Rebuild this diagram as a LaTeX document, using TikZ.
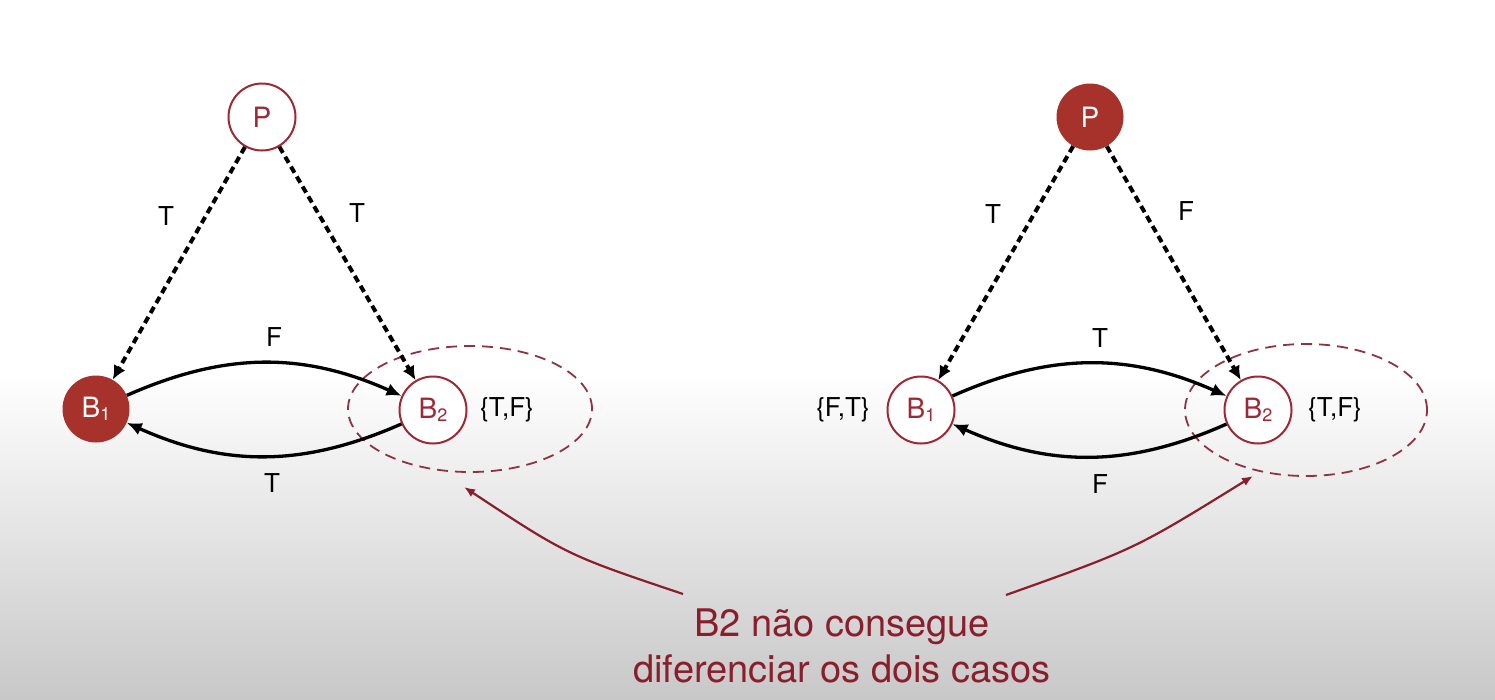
\documentclass[tikz,border=0pt]{standalone}
\usepackage{fontspec}
\setmainfont{TeX Gyre Heros}
\usetikzlibrary{arrows.meta}
\definecolor{bred}{HTML}{9C2A36}
\definecolor{bfill}{HTML}{A6322B}
\definecolor{ered}{HTML}{8E3344}
\definecolor{tred}{HTML}{8A1E2C}
\definecolor{bggray}{HTML}{C8C8C8}
\tikzset{
  openst/.style={circle,minimum size=67pt,inner sep=0pt,draw=bred,line width=2pt,fill=white,text=bred,font=\fontsize{28}{28}\selectfont},
  fullst/.style={circle,minimum size=67pt,inner sep=0pt,fill=bfill,text=white,font=\fontsize{28}{28}\selectfont},
  lbl/.style={inner sep=0pt,font=\fontsize{26}{26}\selectfont,text=black},
  dasharr/.style={line width=4pt,dash pattern=on 7pt off 4.5pt,-{Latex[length=14pt,width=13pt]}},
  solarr/.style={line width=3.3pt,-{Latex[length=15pt,width=13pt]}},
  grp/.style={draw=ered,line width=1.8pt,dash pattern=on 11pt off 7pt},
  redarr/.style={draw=tred,line width=2.2pt,-{Latex[length=11pt,width=9pt]}},
  note/.style={text=tred,font=\fontsize{38}{46}\selectfont,align=center,inner sep=0pt}
}
\newcommand{\bsub}[1]{B\raisebox{-0.12em}{\fontsize{18}{18}\selectfont #1}}
\begin{document}
\begin{tikzpicture}[x=1pt,y=1pt]
\useasboundingbox (0,0) rectangle (1495,-699);
\fill[white] (0,0) rectangle (1495,-372);
\shade[top color=white,bottom color=bggray] (0,-372) rectangle (1495,-699);

% group ellipses
\draw[grp] (470,-409) ellipse [x radius=122pt,y radius=63pt];
\draw[grp] (1306,-410) ellipse [x radius=121pt,y radius=66pt];

% left graph
\node[openst] (lp) at (262,-117) {P};
\node[fullst] (lb1) at (96,-409) {\bsub{1}};
\node[openst] (lb2) at (433,-410) {\bsub{2}};
\node[lbl] (lset) at (507,-410) {\{T,F\}};
\draw[dasharr] (lp) -- (lb1);
\draw[dasharr] (lp) -- (lb2);
\draw[solarr] (lb1) to[bend left=24] (lb2);
\draw[solarr] (lb2) to[bend left=24] (lb1);
\node[lbl] (lt1) at (166,-216) {T};
\node[lbl] (lt2) at (357,-213) {T};
\node[lbl] (lf) at (274,-337) {F};
\node[lbl] (lt3) at (272,-483) {T};

% right graph
\node[fullst] (rp) at (1090,-117) {P};
\node[openst] (rb1) at (921,-410) {\bsub{1}};
\node[openst] (rb2) at (1258,-410) {\bsub{2}};
\node[lbl] (rset1) at (843,-410) {\{F,T\}};
\node[lbl] (rset2) at (1335,-410) {\{T,F\}};
\draw[dasharr] (rp) -- (rb1);
\draw[dasharr] (rp) -- (rb2);
\draw[solarr] (rb1) to[bend left=24] (rb2);
\draw[solarr] (rb2) to[bend left=24] (rb1);
\node[lbl] (rt1) at (993,-214) {T};
\node[lbl] (rf1) at (1186,-211) {F};
\node[lbl] (rt2) at (1100,-338) {T};
\node[lbl] (rf2) at (1100,-484) {F};

% note
\node[note] (note) at (842,-646) {B2 não consegue\\diferenciar os dois casos};
\coordinate (la) at (683,-594);
\coordinate (lt) at (464,-487);
\coordinate (ra) at (1006,-595);
\coordinate (rt) at (1253,-476);
\draw[redarr] (la) .. controls (567,-555) .. (lt);
\draw[redarr] (ra) .. controls (1135,-549) .. (rt);
\end{tikzpicture}
\end{document}
